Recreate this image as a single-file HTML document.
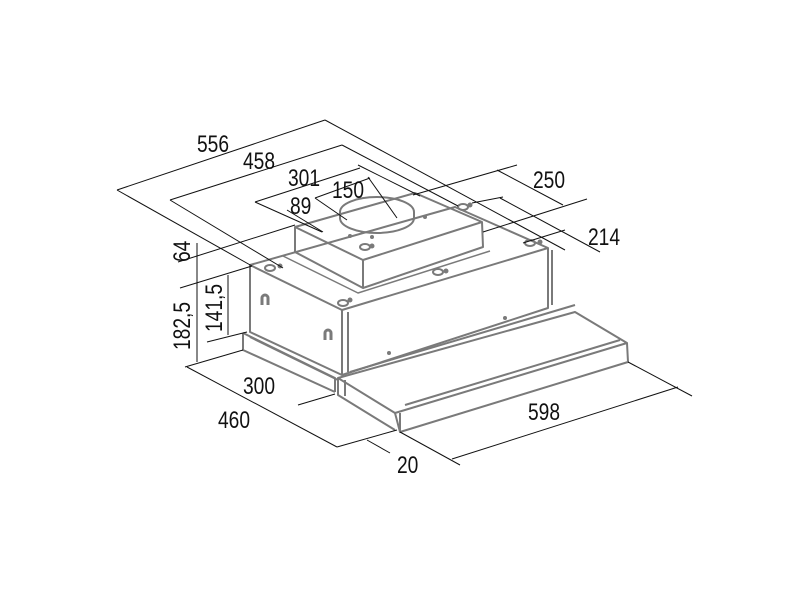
<!DOCTYPE html>
<html><head><meta charset="utf-8"><style>
html,body{margin:0;padding:0;background:#fff;}
svg{display:block}
text{font-family:"Liberation Sans",sans-serif;font-size:24px;fill:#111;}
</style></head><body>
<svg width="800" height="600" viewBox="0 0 800 600" xmlns="http://www.w3.org/2000/svg">
<g fill="none" stroke="#7a7a7a" stroke-width="2" stroke-linejoin="round">
<polygon points="250,265 342,310 548,248 455,207"/>
<polyline points="250,265 250,332 342,375 342,310"/>
<polyline points="342,375 548,308 548,248"/>
<line x1="348" y1="312" x2="348" y2="372"/>
<line x1="552" y1="250" x2="552" y2="305"/>
<polyline points="243,333 243,350 335,392"/>
<polyline points="243,333 335,378 335,392"/>
<line x1="250" y1="337" x2="338" y2="380"/>
<polygon points="338,378 395,413 627,343 575,312"/>
<polyline points="395,413 400,432 628,362 627,343"/>
<line x1="400" y1="413" x2="400" y2="432"/>
<polyline points="338,378 338,395 395,430"/>
<line x1="345" y1="380" x2="345" y2="396"/>
<line x1="350" y1="372" x2="575" y2="305"/>
<line x1="405" y1="405" x2="620" y2="340"/>
<polygon points="295,227 363,260 482,222 415,193"/>
<polyline points="295,227 295,252 363,288 363,260"/>
<polyline points="363,288 483,247 482,222"/>
<polyline points="283,256 358,293 490,251" stroke-width="1.5"/>
<path d="M340,212 A37,15 0 0 1 414,212 L414,218 A37,15 0 0 1 340,218 Z"/>
<path d="M262,305 v-7 a3,3 0 0 1 6,0 v7" stroke-width="3"/>
<path d="M325,340 v-7 a3,3 0 0 1 6,0 v7" stroke-width="3"/>
<ellipse cx="270" cy="268" rx="5" ry="3"/><ellipse cx="343" cy="303" rx="5" ry="3"/>
<ellipse cx="365" cy="247" rx="5" ry="3"/><ellipse cx="438" cy="272" rx="5" ry="3"/>
<ellipse cx="530" cy="243" rx="5" ry="3"/><ellipse cx="463" cy="207" rx="5" ry="3"/>
</g>
<g fill="#7a7a7a">
<circle cx="280" cy="266" r="2.5"/><circle cx="350" cy="300" r="2.5"/><circle cx="372" cy="246" r="2.5"/>
<circle cx="446" cy="271" r="2.5"/><circle cx="540" cy="242" r="2.5"/><circle cx="470" cy="205" r="2.5"/>
<circle cx="389" cy="353" r="2"/><circle cx="505" cy="318" r="2"/><circle cx="350" cy="236" r="2"/><circle cx="425" cy="217" r="2"/><circle cx="372" cy="237" r="2"/>
</g>
<g fill="none" stroke="#111" stroke-width="1">
<line x1="117" y1="190" x2="325" y2="120"/><line x1="117" y1="190" x2="252" y2="266"/><line x1="325" y1="120" x2="565" y2="250"/>
<line x1="170" y1="200" x2="342" y2="145"/><line x1="170" y1="200" x2="283" y2="268"/><line x1="342" y1="145" x2="458" y2="206"/>
<line x1="255" y1="202" x2="360" y2="168"/><line x1="255" y1="202" x2="322" y2="232"/><line x1="358" y1="165" x2="420" y2="196"/>
<line x1="315" y1="198" x2="370" y2="178"/><line x1="315" y1="198" x2="347" y2="220"/><line x1="368" y1="177" x2="397" y2="218"/>
<line x1="287" y1="210" x2="323" y2="232"/>
<line x1="178" y1="262" x2="295" y2="225"/><line x1="180" y1="288" x2="252" y2="266"/>
<line x1="197" y1="243" x2="197" y2="362"/>
<line x1="207" y1="342" x2="247" y2="332"/><line x1="228" y1="275" x2="228" y2="335"/>
<line x1="185" y1="367" x2="243" y2="350"/>
<line x1="187" y1="367" x2="337" y2="447"/><line x1="337" y1="447" x2="397" y2="430"/>
<line x1="298" y1="405" x2="335" y2="394"/>
<line x1="367" y1="440" x2="390" y2="453"/>
<line x1="452" y1="459" x2="678" y2="387"/><line x1="400" y1="432" x2="460" y2="465"/><line x1="628" y1="362" x2="692" y2="396"/>
<line x1="497" y1="170" x2="563" y2="205"/><line x1="517" y1="165" x2="413" y2="195"/><line x1="587" y1="199" x2="483" y2="232"/>
<line x1="500" y1="198" x2="600" y2="252"/><line x1="503" y1="197" x2="472" y2="203"/><line x1="565" y1="230" x2="523" y2="243"/>
</g>
<g>
<text transform="translate(197,152) scale(0.8,1)">556</text>
<text transform="translate(243,169) scale(0.8,1)">458</text>
<text transform="translate(288,186) scale(0.8,1)">301</text>
<text transform="translate(332,198) scale(0.8,1)">150</text>
<text transform="translate(290,214) scale(0.8,1)">89</text>
<text transform="translate(533,188) scale(0.8,1)">250</text>
<text transform="translate(588,245) scale(0.8,1)">214</text>
<text transform="translate(190,262) rotate(-90) scale(0.8,1)">64</text>
<text transform="translate(190,350) rotate(-90) scale(0.8,1)">182,5</text>
<text transform="translate(222,332) rotate(-90) scale(0.8,1)">141,5</text>
<text transform="translate(243,394) scale(0.8,1)">300</text>
<text transform="translate(218,428) scale(0.8,1)">460</text>
<text transform="translate(397,473) scale(0.8,1)">20</text>
<text transform="translate(528,420) scale(0.8,1)">598</text>
</g>
</svg>
</body></html>
